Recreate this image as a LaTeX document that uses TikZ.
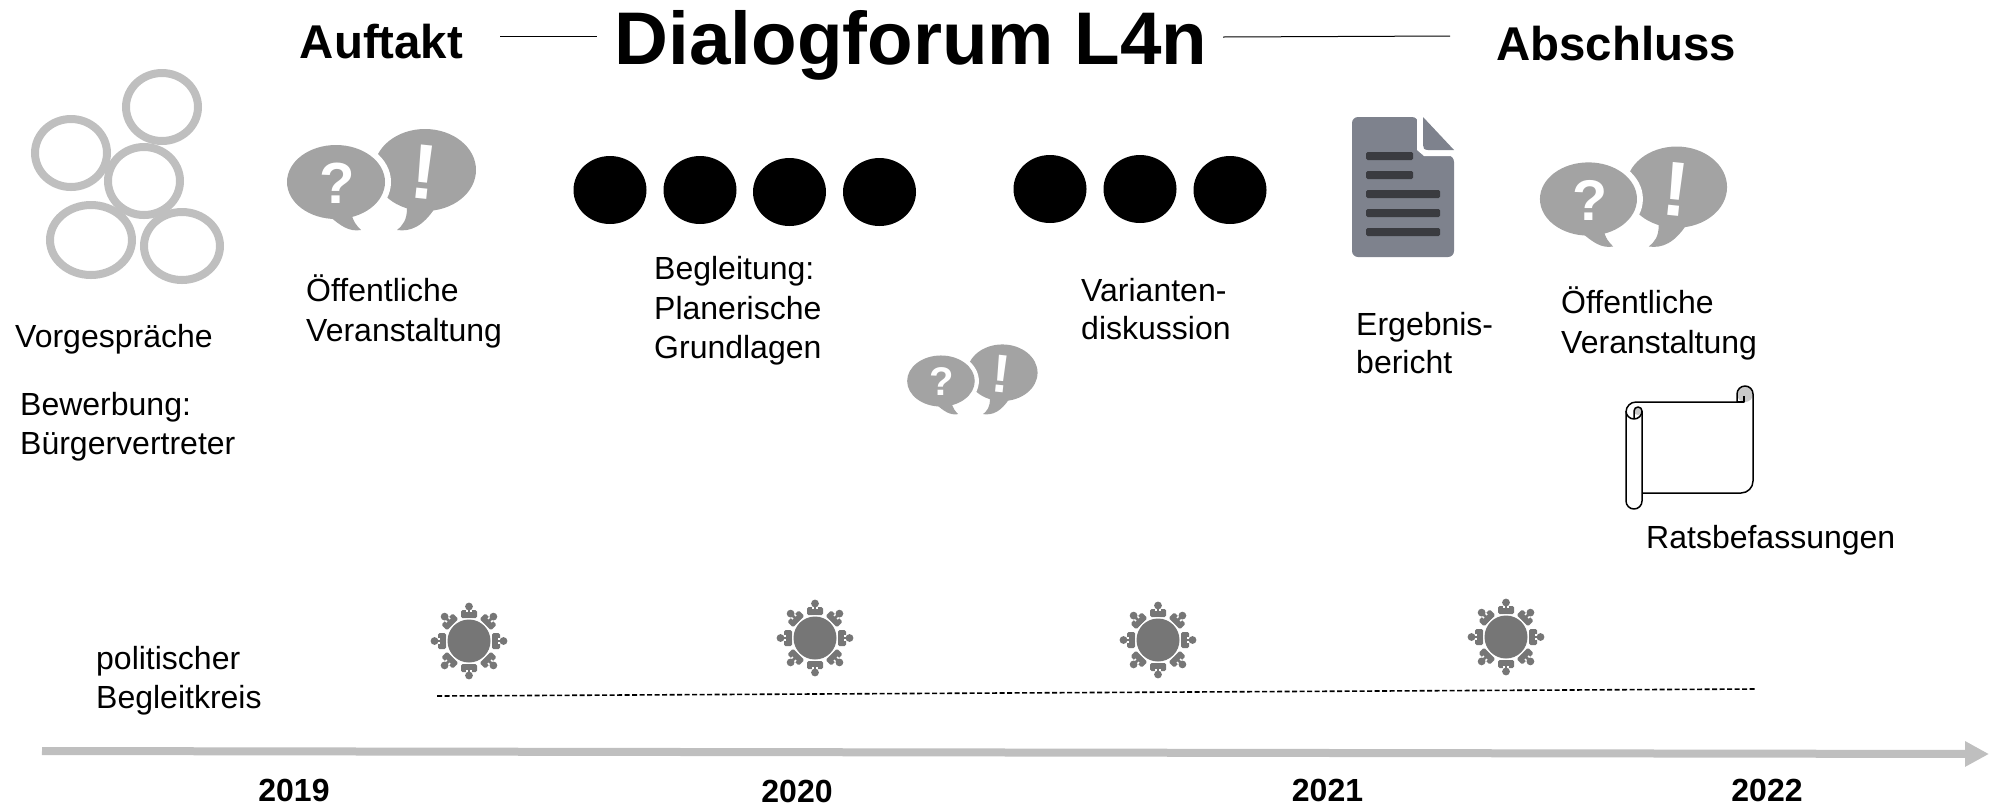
\documentclass[tikz,border=0pt]{standalone}
\usepackage{fontspec}
\setmainfont{Liberation Sans}
\usetikzlibrary{arrows.meta}
\definecolor{bubblegray}{HTML}{A3A3A3}
\definecolor{ringgray}{HTML}{BFBFBF}
\definecolor{docgray}{HTML}{7E828D}
\definecolor{docdark}{HTML}{3A3B40}
\definecolor{tablegray}{HTML}{767676}
\tikzset{
  x=1pt,y=-1pt,
  body/.style={inner sep=0pt,anchor=west,align=left,font=\fontsize{32}{39.4}\selectfont,text=black},
  bodytight/.style={body,font=\fontsize{32}{37.5}\selectfont},
  yearlabel/.style={inner sep=0pt,font=\fontsize{32}{38}\selectfont\bfseries},
  headlabel/.style={inner sep=0pt,font=\fontsize{47.4}{54}\selectfont\bfseries},
  ring/.style={draw=ringgray,line width=8pt},
  blackdot/.style={fill=black},
  rule/.style={draw=black,line width=1pt},
  scrollline/.style={draw=black,line width=1.5pt,line join=round},
  bubbles/.pic={
    \fill[bubblegray] (44,-12) ellipse [x radius=51,y radius=41];
    \fill[bubblegray] (26,26) .. controls (26,38) and (22,43) .. (16,48) .. controls (30,50) and (42,44) .. (54,26) -- cycle;
    \fill[white] (-45,0) ellipse [x radius=55,y radius=43];
    \fill[bubblegray] (-45,0) ellipse [x radius=49,y radius=37];
    \fill[bubblegray] (-30,30) .. controls (-28,40) and (-24,44) .. (-20,48) .. controls (-32,50) and (-40,44) .. (-52,34) -- cycle;
    \node[transform shape,inner sep=0pt,text=white,font=\fontsize{58}{60}\selectfont\bfseries] at (-43.5,1) {?};
    \node[transform shape,inner sep=0pt,text=white,rotate=-6,font=\fontsize{78}{80}\selectfont\bfseries] at (43,-10) {!};
  },
  roundtable/.pic={
    \foreach \a in {0,45,...,315}{
      \begin{scope}[rotate=\a]
        \fill[tablegray,rounded corners=1.5pt] (-8,-31) rectangle (8,-23);
        \fill[white] (-3,-32) rectangle (3,-29);
        \fill[tablegray] (-1.3,-32) rectangle (1.3,-27);
        \fill[tablegray] (0,-34.5) circle (3.9);
      \end{scope}
    }
    \fill[white] (0,0) circle (22.8);
    \fill[tablegray] (0,0) circle (21.5);
  }
}
\begin{document}
\begin{tikzpicture}
\useasboundingbox (0,0) rectangle (1993,807);
% headings
\node[inner sep=0pt,font=\fontsize{74.6}{80}\selectfont\bfseries] (title) at (911,45) {Dialogforum L4n};
\node[headlabel] (auftakt) at (381.5,42) {Auftakt};
\node[headlabel] (abschluss) at (1616,44) {Abschluss};
\coordinate (l1a) at (500,36); \coordinate (l1b) at (597,36);
\coordinate (l2a) at (1223,37); \coordinate (l2b) at (1450,36);
\draw[rule] (l1a) -- (l1b);
\draw[rule] (l2a) -- (l2b);
% rings
\draw[ring] (162,107) ellipse [x radius=36,y radius=34];
\draw[ring] (71,153) ellipse [x radius=36,y radius=34];
\draw[ring] (144,181) ellipse [x radius=36,y radius=34];
\draw[ring] (91,240) ellipse [x radius=41,y radius=35];
\draw[ring] (182,246) ellipse [x radius=38,y radius=34];
% bubbles
\pic at (381,182) {bubbles};
\pic[scale=0.99] at (1633,199) {bubbles};
\pic[scale=0.69] at (972,381) {bubbles};
% black dots
\fill[blackdot] (610,190) ellipse [x radius=36.5,y radius=34];
\fill[blackdot] (700,190) ellipse [x radius=36.5,y radius=34];
\fill[blackdot] (789.5,192) ellipse [x radius=36.5,y radius=34];
\fill[blackdot] (879.5,192) ellipse [x radius=36.5,y radius=34];
\fill[blackdot] (1050,189) ellipse [x radius=36.5,y radius=34];
\fill[blackdot] (1140,189) ellipse [x radius=36.5,y radius=34];
\fill[blackdot] (1230,190) ellipse [x radius=36.5,y radius=34];
% document
\fill[docgray,rounded corners=6pt] (1352,117) -- (1418,117) -- (1418,150) -- (1454,156) -- (1454,257) -- (1352,257) -- cycle;
\fill[white] (1417,117) -- (1422,117) -- (1422,146) -- (1454,151) -- (1454,156) -- (1424,156) -- (1417,150) -- cycle;
\fill[white] (1418,110) rectangle (1456,151);
\fill[docgray] (1423,117) -- (1454,150) -- (1428,150) .. controls (1424,150) and (1423,148) .. (1423,145) -- cycle;
\foreach \yy/\xx in {156/1413,175/1413,194/1440,213/1440,232/1440}{
  \fill[docdark,rounded corners=1.5pt] (1366,\yy-4) rectangle (\xx,\yy+4);
}
% scroll
\fill[ringgray!85!white] (1745,394) circle (8);
\draw[scrollline] (1737,402) -- (1737,394) arc (180:360:8) -- (1753,481) arc (0:90:12) -- (1642,493);
\draw[scrollline] (1737,402) -- (1636,402) arc (270:180:10) -- (1626,501) arc (180:0:8) -- (1642,411);
\draw[scrollline] (1737,402) -- (1744,402) -- (1744,396);
\fill[ringgray!85!white] (1638,411) circle (4);
\draw[scrollline] (1626,411) arc (180:0:8);
\draw[scrollline] (1642,411) arc (360:180:4) -- (1634,418);
% texts
\node[body] (vor) at (15,339.5) {Vorgespräche};
\node[body] (bew) at (20,426.5) {Bewerbung:\\Bürgervertreter};
\node[body] (oe1) at (306,311.5) {Öffentliche\\Veranstaltung};
\node[body] (beg) at (654,311) {Begleitung:\\Planerische\\Grundlagen};
\node[bodytight] (var) at (1081,309) {Varianten-\\diskussion};
\node[bodytight] (erg) at (1356,343) {Ergebnis-\\bericht};
\node[body] (oe2) at (1561,323.5) {Öffentliche\\Veranstaltung};
\node[body] (rat) at (1646,540.5) {Ratsbefassungen};
\node[body] (pol) at (96,680.5) {politischer\\Begleitkreis};
% round tables
\pic at (469,641) {roundtable};
\pic at (815,638) {roundtable};
\pic at (1158,640) {roundtable};
\pic at (1506,637) {roundtable};
% dashed line
\coordinate (da) at (437,696); \coordinate (db) at (1755,689);
\draw[black,line width=1.6pt,dash pattern=on 5pt off 2.5pt] (da) -- (db);
% time axis
\coordinate (ta) at (42,751); \coordinate (tb) at (1989,754);
\draw[ringgray,line width=8pt,-{Triangle[length=24pt,width=24pt]}] (ta) -- (tb);
% years
\node[yearlabel] (y19) at (294,790) {2019};
\node[yearlabel] (y20) at (797,791) {2020};
\node[yearlabel] (y21) at (1327.5,790) {2021};
\node[yearlabel] (y22) at (1767,790) {2022};
\end{tikzpicture}
\end{document}
